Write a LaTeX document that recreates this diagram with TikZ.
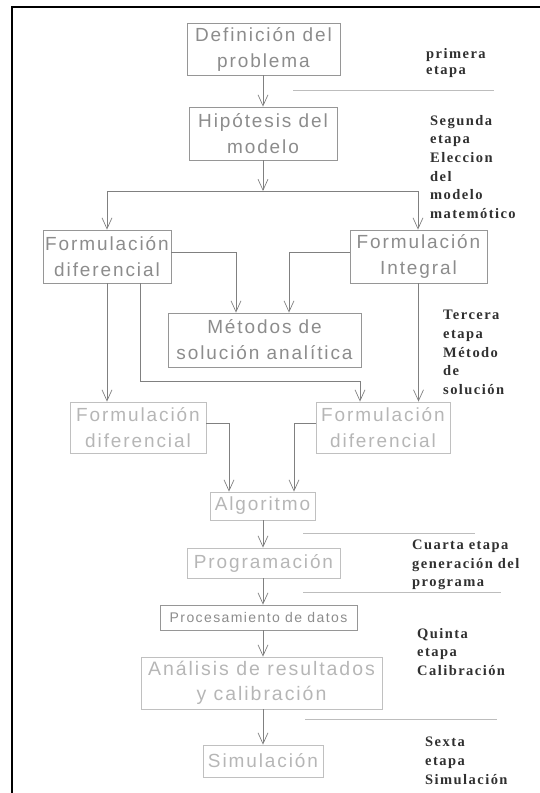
\documentclass[tikz,border=0pt]{standalone}
\usepackage{fontspec}
\setmainfont{Liberation Sans}
\newfontfamily\boxfont{Liberation Sans}[LetterSpace=10]
\newfontfamily\stagefont{Liberation Serif}[LetterSpace=10]
\usetikzlibrary{arrows.meta}

\definecolor{inkA}{HTML}{8C8C8C}
\definecolor{inkB}{HTML}{B6B6B6}
\definecolor{edgeA}{HTML}{969696}
\definecolor{edgeB}{HTML}{C0C0C0}
\definecolor{wire}{HTML}{808080}
\definecolor{rulegray}{HTML}{BDBDBD}
\definecolor{stageink}{HTML}{303030}

\tikzset{
  box/.style={draw=edgeA, line width=0.8pt, text=inkA, inner sep=0pt, align=center,
              font=\boxfont\fontsize{19}{26}\selectfont},
  pale/.style={draw=edgeB, text=inkB},
  link/.style={draw=wire, line width=0.7pt},
  arr/.style={-{Straight Barb[length=11pt,width=10pt,line width=0.7pt]}},
  sep/.style={draw=rulegray, line width=0.9pt},
  stage/.style={text=stageink, inner sep=0pt, align=left, anchor=north west,
                font=\stagefont\bfseries\fontsize{14.5}{18.6}\selectfont},
}

\begin{document}
\begin{tikzpicture}[x=1pt,y=-1pt]
\useasboundingbox (0,0) rectangle (540,793);

% outer frame (left and top edges)
\draw[line width=2pt] (12.4,793) -- (12.4,7) -- (540,7);

% process boxes
\node[box, minimum width=153pt, minimum height=52pt] (def) at (263.5,49) {Definición del\\problema};
\node[box, minimum width=148pt, minimum height=53pt] (hip) at (263,133.5) {Hipótesis del\\modelo};
\node[box, minimum width=128pt, minimum height=53pt] (fd) at (107,256.5) {Formulación\\diferencial};
\node[box, minimum width=137pt, minimum height=53pt] (fi) at (418.5,256.5) {Formulación\\Integral};
\node[box, minimum width=193pt, minimum height=54pt] (met) at (264.5,340) {Métodos de\\solución analítica};
\node[box, pale, minimum width=136pt, minimum height=51pt] (fd2) at (138,427.5) {Formulación\\diferencial};
\node[box, pale, minimum width=134pt, minimum height=51pt] (fd3) at (383,427.5) {Formulación\\diferencial};
\node[box, pale, minimum width=105pt, minimum height=28pt] (alg) at (262.5,506) {Algoritmo};
\node[box, pale, minimum width=153pt, minimum height=30pt] (prog) at (263.5,563) {Programación};
\node[box, minimum width=197pt, minimum height=25pt, font=\boxfont\fontsize{14}{18}\selectfont] (proc) at (258.5,617.5) {Procesamiento de datos};
\node[box, pale, minimum width=241pt, minimum height=52pt, font=\boxfont\fontsize{19.5}{25}\selectfont] (ana) at (261.5,683) {Análisis de resultados\\y calibración};
\node[box, pale, minimum width=120pt, minimum height=32pt] (sim) at (263,761) {Simulación};

% routing coordinates
\coordinate (split) at (263,191);
\coordinate (splitL) at (107,191);
\coordinate (splitR) at (418,191);
\coordinate (upper) at (0,252);
\coordinate (metL) at (236,0);
\coordinate (metR) at (289,0);
\coordinate (dropA) at (140,0);
\coordinate (bus) at (0,381);
\coordinate (fd3L) at (360,0);
\coordinate (lower) at (0,423);
\coordinate (algL) at (229,0);
\coordinate (algR) at (294,0);
\coordinate (spine) at (263,0);

% connectors
\draw[link,arr] (def.south -| spine) -- (hip.north -| spine);
\draw[link,arr] (hip.south -| spine) -- (split);
\draw[link] (splitL) -- (splitR);
\draw[link,arr] (splitL) -- (splitL |- fd.north);
\draw[link,arr] (splitR) -- (splitR |- fi.north);
\draw[link,arr] (fd.east |- upper) -| (met.north -| metL);
\draw[link,arr] (fi.west |- upper) -| (met.north -| metR);
\draw[link,arr] (fd.south) -- (fd.south |- fd2.north);
\draw[link,arr] (fd.south -| dropA) -- (dropA |- bus) -| (fd3.north -| fd3L);
\draw[link,arr] (fi.south) -- (fi.south |- fd3.north);
\draw[link,arr] (fd2.east |- lower) -| (alg.north -| algL);
\draw[link,arr] (fd3.west |- lower) -| (alg.north -| algR);
\draw[link,arr] (alg.south -| spine) -- (prog.north -| spine);
\draw[link,arr] (prog.south -| spine) -- (proc.north -| spine);
\draw[link,arr] (proc.south -| spine) -- (ana.north -| spine);
\draw[link,arr] (ana.south -| spine) -- (sim.north -| spine);

% stage separators
\draw[sep] (293,90.5) -- (494,90.5);
\draw[sep] (303,533.5) -- (475,533.5);
\draw[sep] (303,592.5) -- (501,592.5);
\draw[sep] (305,719) -- (497,719);

% stage labels
\node[stage, font=\stagefont\bfseries\fontsize{14.5}{16.5}\selectfont] (st1) at (426,48) {primera\\etapa};
\node[stage] (st2) at (430,115) {Segunda\\etapa\\Eleccion\\del\\modelo\\matemótico};
\node[stage, font=\stagefont\bfseries\fontsize{14.5}{18.75}\selectfont] (st3) at (443,310) {Tercera\\etapa\\Método\\de\\solución};
\node[stage, font=\stagefont\bfseries\fontsize{14.5}{18.5}\selectfont] (st4) at (412,540) {Cuarta etapa\\generación del\\programa};
\node[stage, font=\stagefont\bfseries\fontsize{14.5}{18.5}\selectfont] (st5) at (417,628) {Quinta\\etapa\\Calibración};
\node[stage, font=\stagefont\bfseries\fontsize{14.5}{19}\selectfont] (st6) at (425,737) {Sexta\\etapa\\Simulación};
\end{tikzpicture}
\end{document}
